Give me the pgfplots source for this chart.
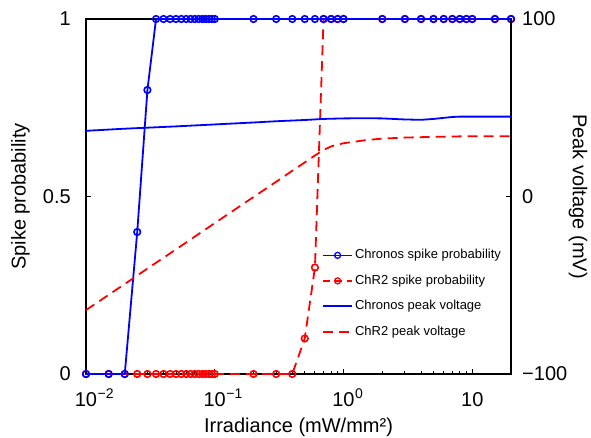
\documentclass[border=0pt]{standalone}
\usepackage{fontspec}
\setmainfont{Liberation Sans}
\usepackage{pgfplots}
\pgfplotsset{compat=1.18}
\definecolor{cblue}{RGB}{0,0,255}
\definecolor{cred}{RGB}{255,0,0}
\newcommand{\tsup}[1]{\rlap{\kern0.5pt\raisebox{0.7ex}{\fontsize{14}{16}\selectfont #1}}}

\begin{document}
\begin{tikzpicture}
\begin{axis}[
  scale only axis, width=425pt, height=355pt,
  at={(0pt,0pt)}, anchor=south west,
  xmode=log, xmin=0.01, xmax=20,
  clip=false,
  tick align=inside,
  major tick length=5pt, minor tick length=3pt,
  every tick/.style={black, line width=0.9pt},
  axis line style={line width=1.5pt, black},
  tick label style={font=\fontsize{20}{24}\selectfont},
  label style={font=\fontsize{20}{24}\selectfont},
  ymin=0, ymax=1,
  xtick={0.01,0.1,1,10},
  xticklabels={10\tsup{−2},10\tsup{−1},10\tsup{0},10},
  minor xtick={0.02,0.03,0.04,0.05,0.06,0.07,0.08,0.09,0.2,0.3,0.4,0.5,0.6,0.7,0.8,0.9,2,3,4,5,6,7,8,9,20},
  xtick pos=bottom, ytick pos=left,
  ytick={0,0.5,1}, yticklabels={0,0.5,1},
  xticklabel style={anchor=base, yshift=-32pt, inner sep=0pt},
  yticklabel style={anchor=east, inner sep=0pt, xshift=-15pt},
  xlabel={Irradiance (mW/mm²)},
  xlabel style={at={(axis description cs:0.5,0)}, anchor=base, yshift=-58pt},
  ylabel={Spike probability},
  ylabel style={at={(axis description cs:-0.154,0.5)}, anchor=center},
]
\addplot[cred, line width=1.8pt, dash pattern=on 10pt off 6pt, mark=o, mark size=3.3pt, mark options={solid, line width=1.6pt}] coordinates {
(0.01,0)(0.015,0)(0.02,0)(0.025,0)(0.03,0)(0.035,0)(0.04,0)(0.045,0)(0.05,0)(0.055,0)(0.06,0)(0.065,0)(0.07,0)(0.075,0)(0.08,0)(0.085,0)(0.09,0)(0.095,0)(0.1,0)
(0.2,0)(0.3,0)(0.4,0)(0.5,0.1)(0.6,0.3)(0.7,1)(0.8,1)(0.9,1)(1,1)(2,1)(3,1)(4,1)(5,1)(6,1)(7,1)(8,1)(9,1)(10,1)(15,1)(20,1)};
\addplot[cblue, line width=1.8pt, mark=o, mark size=3.3pt, mark options={line width=1.6pt}] coordinates {
(0.01,0)(0.015,0)(0.02,0)(0.025,0.4)(0.03,0.8)(0.035,1)(0.04,1)(0.045,1)(0.05,1)(0.055,1)(0.06,1)(0.065,1)(0.07,1)(0.075,1)(0.08,1)(0.085,1)(0.09,1)(0.095,1)(0.1,1)
(0.2,1)(0.3,1)(0.4,1)(0.5,1)(0.6,1)(0.7,1)(0.8,1)(0.9,1)(1,1)(2,1)(3,1)(4,1)(5,1)(6,1)(7,1)(8,1)(9,1)(10,1)(15,1)(20,1)};
\end{axis}

\begin{axis}[
  scale only axis, width=425pt, height=355pt,
  at={(0pt,0pt)}, anchor=south west,
  xmode=log, xmin=0.01, xmax=20,
  clip=false,
  tick align=inside,
  major tick length=5pt, minor tick length=3pt,
  every tick/.style={black, line width=0.9pt},
  axis line style={line width=1.5pt, black},
  tick label style={font=\fontsize{20}{24}\selectfont},
  label style={font=\fontsize{20}{24}\selectfont},
  ymin=-100, ymax=100,
  axis x line=none, axis y line*=right,
  ytick={-100,0,100}, yticklabels={−100,0,100},
  yticklabel style={anchor=west, inner sep=0pt, xshift=11pt},
  ylabel={Peak voltage (mV)},
  ylabel style={at={(axis description cs:1.158,0.5)}, anchor=center, rotate=180},
  legend style={draw=none, fill=none, at={(axis description cs:0.5553,0.358)}, anchor=north west,
    font=\fontsize{13}{15}\selectfont, row sep=9pt, inner sep=0pt,
    nodes={inner sep=2pt, text height=9.5pt, text depth=3pt}},
  legend cell align=left,
  legend image code/.code={\draw[mark repeat=2,mark phase=2] plot coordinates {(0pt,0pt) (14.5pt,0pt) (29pt,0pt)};},
]
\addlegendimage{cblue, line width=1.3pt, mark=o, mark size=3pt, mark options={line width=1.3pt}}
\addlegendentry{Chronos spike probability}
\addlegendimage{cred, line width=1.3pt, dash pattern=on 7pt off 5pt, mark=o, mark size=3pt, mark options={solid, line width=1.3pt}}
\addlegendentry{ChR2 spike probability}
\addplot[cblue, line width=1.8pt] coordinates {
(0.01,37)(0.02,38.2)(0.05,39.5)(0.1,40.6)(0.2,41.7)(0.3,42.4)(0.5,43.1)(0.7,43.7)(1,44)(1.5,44.1)(2,44)(3,43.4)(4,43.2)(5,43.7)(6,44.3)(7,44.8)(8,45)(10,45)(15,45)(20,45)};
\addlegendentry{Chronos peak voltage}
\addplot[cred, line width=1.8pt, dash pattern=on 10pt off 6pt] coordinates {
(0.01,-64)(0.015,-55.4)(0.02,-49.3)(0.03,-40.6)(0.05,-29.8)(0.07,-22.6)(0.1,-15)(0.15,-6.4)(0.2,-0.3)(0.3,8.3)(0.4,14.5)(0.5,19.2)(0.6,23.1)(0.7,26.2)(0.8,28.2)(0.9,29.3)(1,30)(1.5,31.8)(2,32.6)(3,33.2)(5,33.6)(7,33.8)(10,34)(15,34)(20,34)};
\addlegendentry{ChR2 peak voltage}
\end{axis}
\pgfresetboundingbox
\path[use as bounding box] (-86pt,-63pt) rectangle (505pt,374pt);
\end{tikzpicture}
\end{document}
